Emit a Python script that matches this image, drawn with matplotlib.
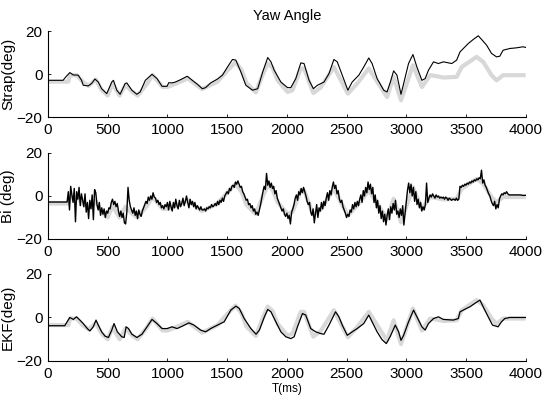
import numpy as np
import matplotlib
matplotlib.use("Agg")
import matplotlib.pyplot as plt

plt.rcParams["font.family"] = ["Liberation Sans", "DejaVu Sans"]

# reference yaw (grey, same in all three panels)
ref_t = [0, 170, 185, 240, 290, 340, 400, 450, 500, 540, 600, 650, 700, 750, 830, 875,
         960, 1000, 1070, 1170, 1290, 1420, 1500, 1570, 1620, 1660, 1740, 1800, 1840,
         1880, 1922, 2006, 2047, 2117, 2144, 2222, 2283, 2394, 2511, 2589, 2686, 2839,
         2894, 2956, 3056, 3131, 3200, 3256, 3311, 3422, 3464, 3589, 3644, 3714, 3756,
         3811, 3922, 4000]
ref_v = [-3.5, -3.5, -0.5, -0.5, -3.5, -5.5, -2.5, -7.5, -10.0, -4.5, -10.0, -5.0,
         -8.0, -10.0, -4.5, -0.5, -6.0, -6.0, -4.5, -2.0, -7.0, -3.5, 1.5, 5.5, 2.0,
         -4.0, -8.5, 0.0, 5.0, 3.0, -2.9, -8.3, -7.5, 2.6, 2.6, -8.8, -6.3, 3.3, -9.1,
         -4.4, 2.6, -10.7, -1.3, -12.2, 4.1, -6.0, -0.5, -1.0, -1.6, -1.3, 3.3, 8.0,
         5.7, -0.5, -2.9, -0.5, -0.5, -0.5]

# strapdown estimate
strap_t = [0, 126, 154, 183, 211, 253, 281, 295, 337, 365, 393, 421, 449, 492, 534,
           548, 576, 604, 646, 660, 702, 744, 772, 815, 871, 913, 955, 997, 1011, 1039,
           1067, 1110, 1166, 1208, 1250, 1292, 1320, 1362, 1419, 1461, 1503, 1545, 1573,
           1615, 1657, 1713, 1756, 1798, 1840, 1867, 1894, 1950, 2006, 2033, 2075, 2117,
           2144, 2186, 2222, 2256, 2311, 2353, 2394, 2422, 2464, 2511, 2547, 2603, 2644,
           2686, 2714, 2756, 2811, 2839, 2867, 2894, 2922, 2956, 2978, 3019, 3056, 3089,
           3131, 3158, 3186, 3228, 3269, 3311, 3381, 3422, 3450, 3478, 3519, 3561, 3603,
           3631, 3672, 3714, 3756, 3783, 3811, 3867, 3922, 3978, 4000]
strap_v = [-2.9, -2.9, -1.0, 0.7, -0.4, -0.5, -2.9, -5.2, -5.5, -4.4, -2.3, -3.7, -6.8,
           -9.1, -3.7, -2.9, -7.5, -9.4, -4.4, -4.1, -7.5, -9.4, -8.3, -2.9, -0.1, -2.1,
           -5.7, -5.7, -4.0, -4.1, -3.7, -2.6, -1.0, -2.9, -4.7, -6.8, -6.3, -4.1, -2.3,
           -0.5, 3.3, 6.8, 6.5, 1.0, -5.2, -7.5, -6.8, 1.0, 7.7, 5.7, 1.8, -3.7, -6.3,
           -6.3, -2.1, 5.2, 4.9, -2.9, -6.8, -5.2, -3.7, 0.2, 6.8, 5.7, -0.5, -7.5, -3.7,
           -0.5, 3.3, 7.5, 4.9, -2.1, -7.5, -8.3, -3.7, 1.5, -0.5, -9.4, -4.4, 4.9, 9.1,
           3.3, -2.9, -2.1, 1.8, 5.7, 4.9, 5.7, 4.9, 6.5, 10.3, 11.9, 14.2, 16.1, 17.8,
           16.1, 13.5, 9.6, 8.0, 8.3, 11.1, 11.9, 12.2, 12.7, 12.4]

# Bi estimate, sampled every 10 ms
bi_t = np.arange(0, 4001, 10)
bi_v = [
    -2.8, -2.8, -2.8, -2.8, -2.8, -2.8, -2.8, -2.8, -2.8, -2.8,
    -2.8, -2.8, -2.8, -2.8, -2.8, -2.8, -2.8, 2.0, -6.5, 4.5,
    0.5, -3.0, 3.5, -12.0, 2.0, -1.5, 4.0, -4.5, 1.0, -2.0,
    -5.0, 1.0, -7.5, -3.0, -10.5, -2.0, -6.0, 0.5, -11.0, 3.0,
    1.5, -4.0, -6.5, -3.0, -9.0, -5.5, -8.5, -6.0, -10.0, -7.0,
    -8.0, -5.5, -6.0, -3.0, -1.5, -4.0, -2.5, -5.0, -3.5, -7.0,
    -9.5, -7.0, -10.0, -8.0, -12.5, -13.0, -7.5, 4.0, -2.0, -5.0,
    -6.5, -8.0, -5.5, -9.0, -7.0, -10.5, -6.5, -8.5, -9.5, -7.0,
    -5.5, -4.0, -2.5, -3.5, -0.5, -2.0, 0.0, -1.5, 1.5, -0.5,
    -1.0, -3.0, -2.0, -4.0, -3.0, -5.5, -4.5, -6.0, -4.0, -5.0,
    -3.0, -6.5, -2.5, -5.0, -7.0, -3.0, -5.5, -1.5, -4.5, -6.0,
    -2.0, -5.0, -3.5, -1.0, -4.5, -2.5, 0.0, -3.0, -5.5, -1.5,
    -4.0, -2.5, -5.0, -3.0, -6.0, -4.5, -5.5, -6.5, -5.0, -6.5,
    -6.5, -6.0, -7.0, -5.5, -6.0, -5.0, -5.5, -4.0, -5.0, -4.5,
    -3.5, -4.5, -2.5, -4.0, -2.0, -3.0, -1.0, -2.5, 0.0, 1.0,
    2.0, 1.0, 3.5, 2.5, 4.5, 5.0, 4.0, 6.5, 5.5, 7.0,
    5.5, 4.0, 4.5, 2.0, 1.0, -0.5, -2.0, -1.5, -4.0, -3.5,
    -5.5, -4.5, -7.0, -6.0, -8.5, -7.5, -9.0, -6.5, -4.0, -1.0,
    2.0, 4.5, 3.0, 10.5, 5.0, 7.0, 4.0, 6.0, 3.5, 4.5,
    1.0, 2.5, -1.0, -2.5, -4.0, -5.5, -7.0, -6.0, -8.5, -9.5,
    -8.0, -10.5, -9.0, -13.0, -7.5, -6.0, -4.0, -1.0, 0.5, -2.0,
    2.0, 0.5, 3.5, 1.5, 4.0, 2.0, 0.0, -2.5, -4.0, -3.0,
    -7.5, -9.0, -6.0, -12.5, -8.0, -4.0, -10.0, -5.5, -7.0, -3.0,
    -6.0, -2.5, -4.5, -1.0, 1.5, -2.0, 2.5, 0.5, 4.0, 6.5,
    3.5, 5.0, 1.0, 2.5, -1.5, -3.0, -2.0, -5.0, -6.5, -8.0,
    -10.0, -8.5, -9.5, -6.5, -7.5, -4.0, -6.0, -3.0, -5.0, -2.5,
    -4.5, -1.5, 0.5, -3.0, 2.5, 0.0, 4.0, 1.5, 6.5, 3.0,
    5.5, 1.0, 4.0, -3.0, 0.5, -5.5, -2.0, -8.0, -4.5, -10.5,
    -7.0, -12.0, -8.5, -13.5, -9.0, -6.0, -11.0, -5.0, -8.0, -3.5,
    -6.5, -2.0, -8.5, -7.0, -10.0, -6.0, -9.0, -4.5, -13.5, -8.0,
    -2.0, 2.5, 6.0, 1.5, 5.5, 0.0, 4.0, -2.5, 2.0, -4.0,
    -1.5, -5.5, -3.0, -7.0, -5.0, -6.5, -4.0, 6.0, -3.0, -1.0,
    0.5, -0.5, 1.0, 0.0, -1.0, 0.5, -0.5, 0.0, -1.0, -0.5,
    -1.0, -0.5, -1.5, -0.5, -1.0, -2.0, -1.0, -1.5, -2.0, -1.5,
    -1.5, -2.0, -1.0, -2.0, -1.5, 4.5, 4.0, 5.0, 4.5, 5.5,
    5.0, 6.0, 5.5, 6.5, 6.0, 7.0, 6.5, 7.5, 7.0, 8.0,
    7.5, 8.5, 8.0, 12.0, 6.0, 7.5, 5.0, 4.0, 2.5, 1.0,
    0.0, -2.0, -3.5, -4.5, -2.5, -6.0, -4.0, -5.5, -1.5, 0.0,
    1.0, 0.5, 1.5, 1.0, 2.0, 1.0, 0.5, 0.5, 0.5, 0.5,
    0.5, 0.5, 0.5, 0.5, 0.5, 0.5, 0.5, 0.3, 0.3, 0.3,
    0.3,
]

# EKF estimate
ekf_t = [0, 140, 169, 183, 211, 239, 267, 295, 329, 351, 379, 402, 421, 449, 478, 506,
         534, 553, 581, 618, 638, 654, 674, 702, 744, 787, 829, 871, 913, 955, 997,
         1039, 1081, 1124, 1180, 1222, 1278, 1320, 1362, 1419, 1475, 1531, 1573, 1601,
         1643, 1699, 1742, 1770, 1812, 1840, 1867, 1908, 1950, 1992, 2033, 2061, 2089,
         2131, 2158, 2200, 2242, 2283, 2311, 2353, 2408, 2436, 2464, 2506, 2547, 2589,
         2644, 2686, 2714, 2756, 2797, 2833, 2867, 2908, 2936, 2956, 2978, 3019, 3061,
         3089, 3131, 3158, 3186, 3228, 3269, 3311, 3394, 3436, 3450, 3506, 3533, 3575,
         3617, 3644, 3686, 3722, 3769, 3797, 3825, 3867, 4000]
ekf_v = [-3.8, -3.8, -1.2, 0.0, -0.9, 0.3, -1.2, -2.8, -5.1, -6.2, -4.3, -1.2, -3.5,
         -6.6, -8.6, -9.2, -5.8, -2.8, -6.6, -8.9, -9.2, -4.3, -5.1, -7.7, -9.2, -7.7,
         -4.3, -0.9, -2.8, -5.1, -5.1, -4.3, -5.1, -4.0, -2.5, -3.5, -5.8, -6.6, -5.1,
         -3.5, -2.0, 3.4, 5.2, 4.2, -0.5, -5.1, -7.7, -5.8, 0.3, 3.7, 2.6, -2.0, -6.6,
         -8.9, -9.7, -8.9, -4.3, 1.8, 1.1, -5.1, -6.6, -7.4, -7.7, -3.5, 2.6, 0.3, -3.5,
         -8.2, -6.6, -5.1, -2.8, 1.1, -2.0, -6.6, -10.2, -12.0, -8.6, -3.5, -6.6, -10.5,
         -8.2, -2.0, 3.4, 0.3, -4.3, -5.8, -2.8, -0.5, 0.3, -0.9, -1.2, -0.5, 2.6, 4.2,
         4.9, 6.5, 8.0, 4.9, 0.3, -3.5, -4.3, -2.0, -0.5, 0.0, 0.0]

panels = [("Strap(deg)", strap_t, strap_v, 0.8),
          ("Bi (deg)", bi_t, bi_v, 1.0),
          ("EKF(deg)", ekf_t, ekf_v, 0.9)]
boxes = [[0.0868, 0.708, 0.8638, 0.2145],
         [0.0868, 0.404, 0.8638, 0.2145],
         [0.0868, 0.0998, 0.8638, 0.217]]

fig = plt.figure(figsize=(5.53, 4.01), dpi=100)
for i, (label, t, v, lw) in enumerate(panels):
    ax = fig.add_axes(boxes[i])
    ax.plot(ref_t, ref_v, color="#d8d8d8", lw=3.0, solid_capstyle="butt")
    ax.plot(t, v, color="black", lw=lw)
    ax.set_xlim(0, 4000)
    ax.set_ylim(-20, 20)
    ax.set_xticks(np.arange(0, 4001, 500))
    ax.set_yticks([-20, 0, 20])
    ax.spines["top"].set_visible(False)
    ax.spines["right"].set_visible(False)
    ax.tick_params(direction="in", length=2.5, width=0.6, labelsize=11, pad=4)
    ax.set_ylabel(label, fontsize=11, labelpad=1)
    if i == 0:
        ax.set_title("Yaw Angle", fontsize=10.5, pad=8)
    if i == 2:
        ax.set_xlabel("T(ms)", fontsize=8.5, labelpad=2)

fig.savefig("out.png", dpi=100)
